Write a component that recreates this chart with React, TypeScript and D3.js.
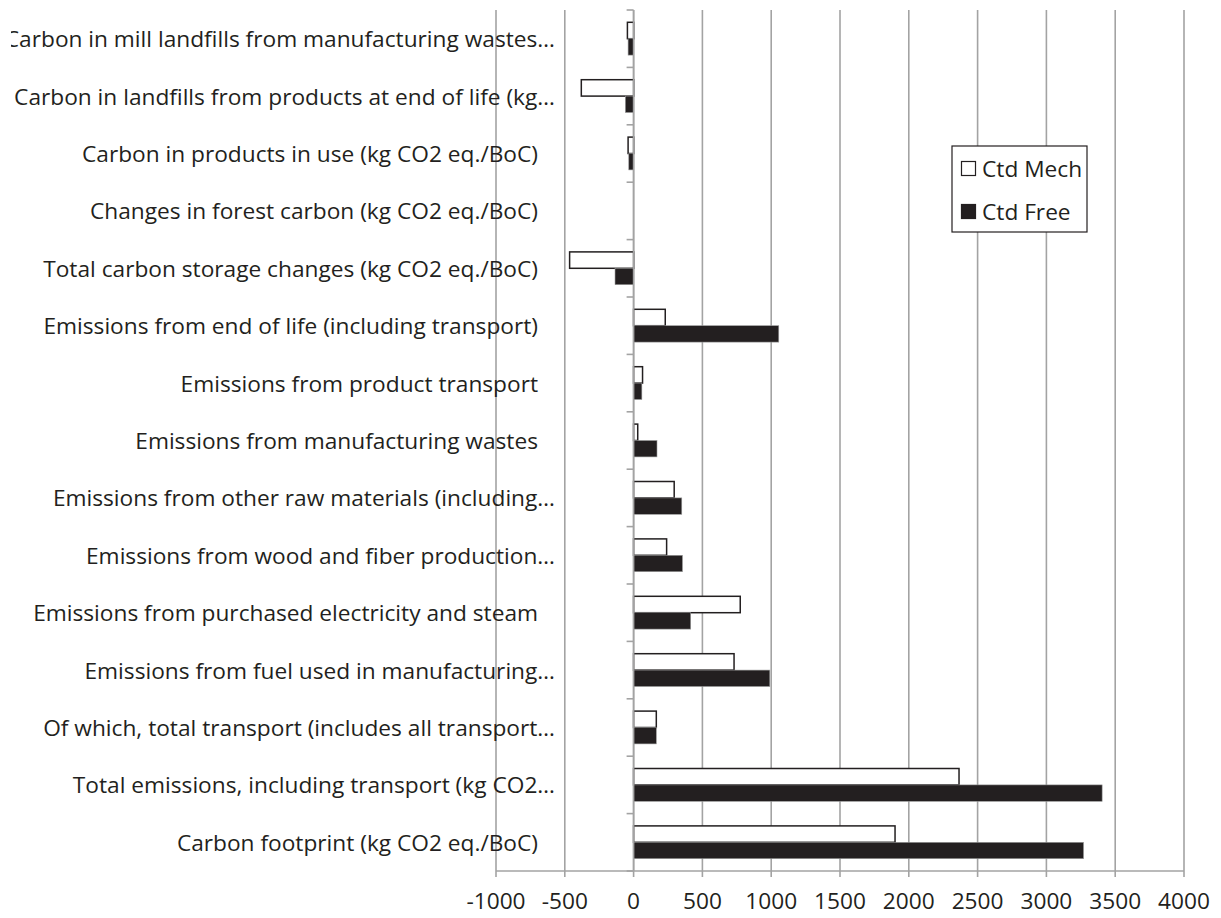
import React from "react";
import * as d3 from "d3";

const categories: string[] = [
  "Carbon in mill landfills from manufacturing wastes…",
  "Carbon in landfills from products at end of life (kg…",
  "Carbon in products in use (kg CO2 eq./BoC)",
  "Changes in forest carbon (kg CO2 eq./BoC)",
  "Total carbon storage changes (kg CO2 eq./BoC)",
  "Emissions from end of life (including transport)",
  "Emissions from product transport",
  "Emissions from manufacturing wastes",
  "Emissions from other raw materials (including…",
  "Emissions from wood and fiber production…",
  "Emissions from purchased electricity and steam",
  "Emissions from fuel used in manufacturing…",
  "Of which, total transport (includes all transport…",
  "Total emissions, including transport (kg CO2…",
  "Carbon footprint (kg CO2 eq./BoC)",
];

const ctdMech: number[] = [-45, -380, -40, 0, -465, 230, 65, 30, 295, 240, 775, 730, 165, 2365, 1900];
const ctdFree: number[] = [-40, -60, -35, 0, -135, 1055, 60, 170, 350, 355, 415, 990, 165, 3405, 3270];

const seriesNames: string[] = ["Ctd Mech", "Ctd Free"];
const xTicks: number[] = [-1000, -500, 0, 500, 1000, 1500, 2000, 2500, 3000, 3500, 4000];

const W = 1221;
const H = 918;
const plotLeft = 496;
const plotRight = 1184;
const plotTop = 10;
const plotBottom = 871;
const INK = "#231f20";
const GRID = "#a3a3a3";
const FONT = "'Open Sans', sans-serif";
const FS = 22.7;

export default function App() {
  const x = d3.scaleLinear().domain([-1000, 4000]).range([plotLeft, plotRight]);
  const gapRatio = 1.5 / 3.5;
  const y = d3
    .scaleBand<string>()
    .domain(categories)
    .range([plotTop, plotBottom])
    .paddingInner(gapRatio)
    .paddingOuter(gapRatio / 2);
  const inner = d3.scaleBand<string>().domain(seriesNames).range([0, y.bandwidth()]).padding(0);
  const step = y.step();
  const x0 = x(0);
  const seriesData = [ctdMech, ctdFree];

  return (
    <svg
      width={W}
      height={H}
      style={{ position: "absolute", left: 0, top: 0, background: "#fff" }}
      fontFamily={FONT}
    >
      <defs>
        <clipPath id="lblclip">
          <rect x={11} y={0} width={W} height={H} />
        </clipPath>
      </defs>
      <rect x={0} y={0} width={W} height={H} fill="#fff" />
      {/* gridlines */}
      {xTicks.map((t) => (
        <line
          key={"g" + t}
          x1={x(t)}
          x2={x(t)}
          y1={plotTop}
          y2={plotBottom + 6}
          stroke={GRID}
          strokeWidth={1.6}
        />
      ))}
      {/* category labels */}
      <g clipPath="url(#lblclip)">
        {categories.map((c) => (
          <text
            key={"l" + c}
            x={c.endsWith("…") ? 555 : 538}
            y={(y(c) as number) + y.bandwidth() / 2}
            textAnchor="end"
            dominantBaseline="central"
            fontSize={FS}
            fill={INK}
          >
            {c}
          </text>
        ))}
      </g>
      {/* bars */}
      {seriesData.map((vals, si) =>
        vals.map((v, i) => {
          const c = categories[i];
          const by = (y(c) as number) + (inner(seriesNames[si]) as number);
          const bx = Math.min(x(v), x0);
          const bw = Math.abs(x(v) - x0);
          if (bw < 0.01) return null;
          return si === 0 ? (
            <rect
              key={`b${si}-${i}`}
              x={bx}
              y={by}
              width={bw}
              height={inner.bandwidth()}
              fill="#fff"
              stroke={INK}
              strokeWidth={1.5}
            />
          ) : (
            <rect
              key={`b${si}-${i}`}
              x={bx}
              y={by}
              width={bw}
              height={inner.bandwidth()}
              fill={INK}
              stroke="#9a9a9a"
              strokeWidth={0.6}
            />
          );
        })
      )}
      {/* vertical category axis at zero */}
      <line x1={x0} x2={x0} y1={plotTop} y2={plotBottom} stroke={GRID} strokeWidth={1.6} />
      {d3.range(categories.length + 1).map((k) => (
        <line
          key={"ct" + k}
          x1={x0 - 7}
          x2={x0}
          y1={plotTop + k * step}
          y2={plotTop + k * step}
          stroke={GRID}
          strokeWidth={1.6}
        />
      ))}
      {/* bottom value axis */}
      <line x1={plotLeft} x2={plotRight} y1={plotBottom} y2={plotBottom} stroke={GRID} strokeWidth={1.6} />
      {xTicks.map((t) => (
        <text
          key={"t" + t}
          x={x(t)}
          y={900}
          textAnchor="middle"
          dominantBaseline="central"
          fontSize={FS}
          fill={INK}
        >
          {t}
        </text>
      ))}
      {/* legend */}
      <rect x={952} y={146} width={135} height={86} fill="#fff" stroke={INK} strokeWidth={1.2} />
      {seriesNames.map((s, i) => (
        <g key={"lg" + s}>
          <rect
            x={961.5}
            y={161.5 + i * 43}
            width={14}
            height={14}
            fill={i === 0 ? "#fff" : INK}
            stroke={INK}
            strokeWidth={1.2}
          />
          <text x={982} y={168.5 + i * 43} dominantBaseline="central" fontSize={FS} fill={INK}>
            {s}
          </text>
        </g>
      ))}
    </svg>
  );
}
